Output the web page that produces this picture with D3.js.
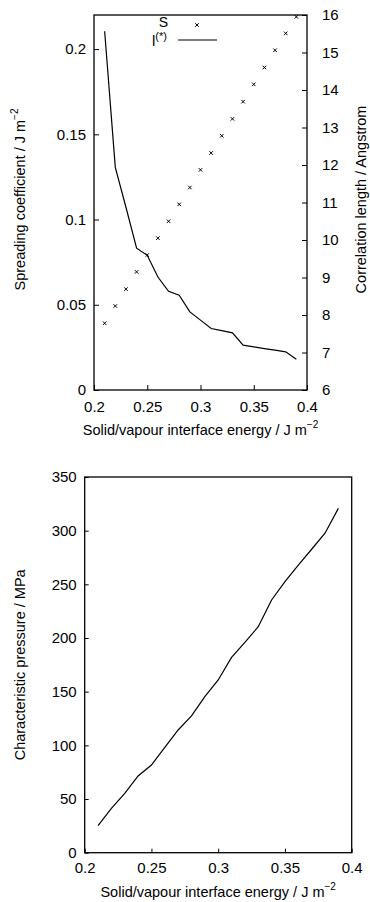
<!DOCTYPE html>
<html>
<head>
<meta charset="utf-8">
<script src="https://cdn.jsdelivr.net/npm/d3@7"></script>
<style>
  body { margin: 0; background: #fff; }
  svg { display: block; font-family: "Liberation Sans", Arial, sans-serif; }
  .tick text { font-size: 15px; fill: #000; }
  .tick line { stroke: #000; }
</style>
</head>
<body>
<script>
// surface energy values (x) shared by both panels
const energy = [0.21, 0.22, 0.23, 0.24, 0.25, 0.26, 0.27, 0.28, 0.29, 0.30,
                0.31, 0.32, 0.33, 0.34, 0.35, 0.36, 0.37, 0.38, 0.39];

// top panel: spreading coefficient (line, left axis)
const spreading = [0.2105, 0.1306, 0.1072, 0.0832, 0.0790, 0.0663, 0.0579, 0.0556, 0.0458, 0.0410,
                   0.0361, 0.0348, 0.0335, 0.0263, 0.0253, 0.0243, 0.0234, 0.0224, 0.0180];

// top panel: correlation length (crosses, right axis)
const correlation = [7.78, 8.24, 8.69, 9.15, 9.60, 10.05, 10.50, 10.95, 11.40, 11.87,
                     12.32, 12.78, 13.23, 13.69, 14.15, 14.60, 15.06, 15.51, 15.95];

// bottom panel: characteristic pressure
const pressure = [25.2, 41.4, 55.3, 71.5, 81.7, 98.2, 114.3, 127.4, 145.3, 160.9,
                  182.0, 196.0, 210.5, 235.4, 252.5, 268.0, 282.7, 297.6, 320.8];

// tick labels
const xTicks = [0.2, 0.25, 0.3, 0.35, 0.4];
const spreadTicks = [0, 0.05, 0.1, 0.15, 0.2];
const corrTicks = [6, 7, 8, 9, 10, 11, 12, 13, 14, 15, 16];
const pressTicks = [0, 50, 100, 150, 200, 250, 300, 350];

const W = 370, H = 902;
const fmt = d3.format("~g");
const titleSize = 14.5;

const svg = d3.select("body").append("svg")
    .attr("width", W)
    .attr("height", H);

// x axis title with superscript
function xTitle(g, cx, y) {
    let t = g.append("text")
        .attr("x", cx)
        .attr("y", y)
        .attr("text-anchor", "middle")
        .attr("font-size", titleSize)
        .text("Solid/vapour interface energy / J m");
    t.append("tspan").attr("dy", -7).attr("font-size", 10).text("\u22122");
}

// ---------- top panel ----------
let upper = { l: 94, r: 307, t: 15, b: 390 };

let x1 = d3.scaleLinear().domain([0.2, 0.4]).range([upper.l, upper.r]);
let yS = d3.scaleLinear().domain([0, 0.22]).range([upper.b, upper.t]);
let yC = d3.scaleLinear().domain([6, 16]).range([upper.b, upper.t]);

svg.append("g")
    .attr("transform", `translate(0,${upper.b})`)
    .call(d3.axisBottom(x1).tickValues(xTicks).tickFormat(fmt).tickSize(-5).tickSizeOuter(0).tickPadding(11))
    .call(g => g.select(".domain").remove());

svg.append("g")
    .attr("transform", `translate(${upper.l},0)`)
    .call(d3.axisLeft(yS).tickValues(spreadTicks).tickFormat(fmt).tickSize(-5).tickSizeOuter(0).tickPadding(8))
    .call(g => g.select(".domain").remove());

svg.append("g")
    .attr("transform", `translate(${upper.r},0)`)
    .call(d3.axisRight(yC).tickValues(corrTicks).tickFormat(fmt).tickSize(-5).tickSizeOuter(0).tickPadding(15))
    .call(g => g.select(".domain").remove());

svg.append("rect")
    .attr("x", upper.l).attr("y", upper.t)
    .attr("width", upper.r - upper.l).attr("height", upper.b - upper.t)
    .attr("fill", "none").attr("stroke", "#000").attr("stroke-width", 1.3);

let lineS = d3.line()
    .x((d, i) => x1(energy[i]))
    .y(d => yS(d));

svg.append("path")
    .datum(spreading)
    .attr("d", lineS)
    .attr("fill", "none")
    .attr("stroke", "#000")
    .attr("stroke-width", 1.2);

const cross = d3.symbol().type(d3.symbolTimes).size(10);

svg.selectAll(".corr")
    .data(correlation)
    .enter()
    .append("path")
    .attr("class", "corr")
    .attr("d", cross)
    .attr("transform", (d, i) => `translate(${x1(energy[i])},${yC(d)})`)
    .attr("fill", "none")
    .attr("stroke", "#000")
    .attr("stroke-width", 1);

// legend
svg.append("text")
    .attr("x", 168).attr("y", 27)
    .attr("text-anchor", "end")
    .attr("font-size", 14)
    .text("S");
svg.append("path")
    .attr("d", cross)
    .attr("transform", "translate(197,25)")
    .attr("fill", "none").attr("stroke", "#000");

let lg = svg.append("text")
    .attr("x", 152).attr("y", 46)
    .attr("font-size", 15)
    .text("l");
lg.append("tspan").attr("dy", -6).attr("font-size", 11).text("(*)");
svg.append("line")
    .attr("x1", 178).attr("x2", 217)
    .attr("y1", 40).attr("y2", 40)
    .attr("stroke", "#000").attr("stroke-width", 1.2);

// axis titles
let ls = svg.append("text")
    .attr("transform", `translate(25,${(upper.t + upper.b) / 2 - 3}) rotate(-90)`)
    .attr("text-anchor", "middle")
    .attr("font-size", titleSize)
    .text("Spreading coefficient / J m");
ls.append("tspan").attr("dy", -7).attr("font-size", 10).text("\u22122");

svg.append("text")
    .attr("transform", `translate(366,${(upper.t + upper.b) / 2 - 3}) rotate(-90)`)
    .attr("text-anchor", "middle")
    .attr("font-size", titleSize)
    .text("Correlation length / Angstrom");

xTitle(svg, (upper.l + upper.r) / 2, 435);

// ---------- bottom panel ----------
let lower = { l: 84.7, r: 351.7, t: 477, b: 852.7 };

let x2 = d3.scaleLinear().domain([0.2, 0.4]).range([lower.l, lower.r]);
let yP = d3.scaleLinear().domain([0, 350]).range([lower.b, lower.t]);

svg.append("g")
    .attr("transform", `translate(0,${lower.b})`)
    .call(d3.axisBottom(x2).tickValues(xTicks).tickFormat(fmt).tickSize(-4).tickSizeOuter(0).tickPadding(10))
    .call(g => g.select(".domain").remove());

svg.append("g")
    .attr("transform", `translate(${lower.l},0)`)
    .call(d3.axisLeft(yP).tickValues(pressTicks).tickFormat(fmt).tickSize(-4).tickSizeOuter(0).tickPadding(8))
    .call(g => g.select(".domain").remove());

svg.append("rect")
    .attr("x", lower.l).attr("y", lower.t)
    .attr("width", lower.r - lower.l).attr("height", lower.b - lower.t)
    .attr("fill", "none").attr("stroke", "#000").attr("stroke-width", 1.3);

let lineP = d3.line()
    .x((d, i) => x2(energy[i]))
    .y(d => yP(d));

svg.append("path")
    .datum(pressure)
    .attr("d", lineP)
    .attr("fill", "none")
    .attr("stroke", "#000")
    .attr("stroke-width", 1.2);

svg.append("text")
    .attr("transform", `translate(25,${(lower.t + lower.b) / 2}) rotate(-90)`)
    .attr("text-anchor", "middle")
    .attr("font-size", titleSize)
    .text("Characteristic pressure / MPa");

xTitle(svg, (lower.l + lower.r) / 2, 897);
</script>
</body>
</html>
